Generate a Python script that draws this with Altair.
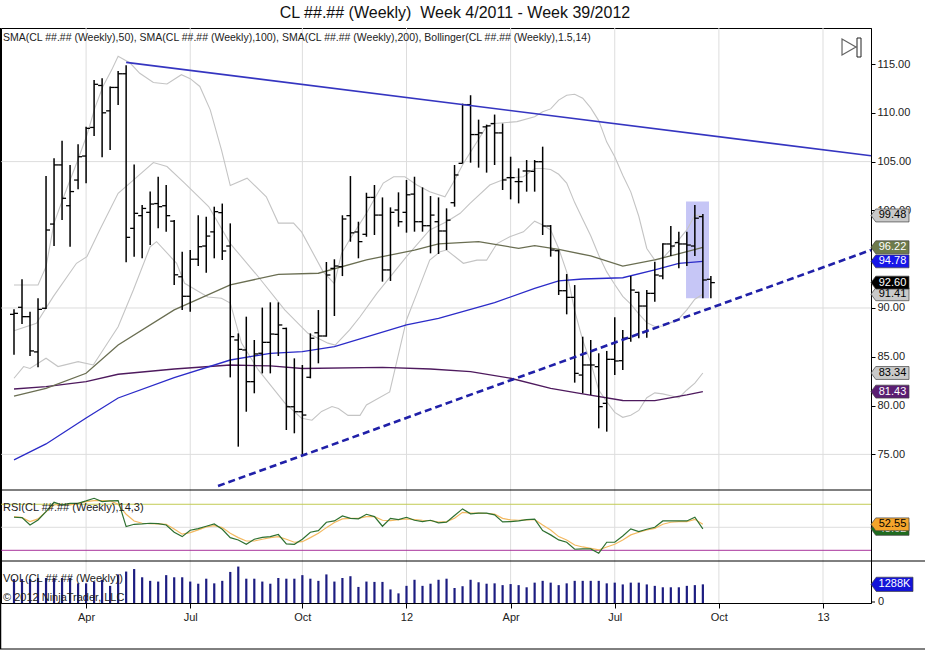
import altair as alt
import pandas as pd

FONT = "Liberation Sans"
TITLE = "CL ##.## (Weekly)\u00a0 Week 4/2011 - Week 39/2012"
IND_LABEL = "SMA(CL ##.## (Weekly),50), SMA(CL ##.## (Weekly),100), SMA(CL ##.## (Weekly),200), Bollinger(CL ##.## (Weekly),1.5,14)"
RSI_LABEL = "RSI(CL ##.## (Weekly),14,3)"
VOL_LABEL = "VOL(CL ##.## (Weekly))"
COPY_LABEL = "\u00a9 2012 NinjaTrader, LLC"

first_bar = "2011-01-28"   # weekly bars, one per week

opens = [89.35, 90.07, 89.11, 85.5, 89.97, 98.6, 104.66, 100.48, 103.11, 105.57,
         108.5, 112.8, 110.2, 112.6, 114.0, 98.16, 99.46, 99.8, 100.7, 100.48,
         98.9, 93.2, 91.2, 95.0, 96.35, 97.8, 99.77, 96.35, 86.72, 85.7,
         82.45, 85.36, 86.48, 87.3, 87.9, 79.88, 79.37, 82.9, 87.46, 87.13,
         94.06, 94.23, 99.46, 97.79, 97.55, 101.33, 99.52, 93.9, 100.04, 99.8,
         101.67, 98.84, 98.43, 98.84, 97.89, 100.79, 104.82, 110.84, 107.77, 108.56,
         108.9, 107.94, 103.36, 102.95, 104.04, 104.0, 104.99, 98.4, 95.87, 91.77,
         91.09, 83.13, 84.16, 83.99, 80.23, 84.74, 84.6, 86.89, 91.6, 90.2,
         91.5, 93.28, 96.56, 96.7, 96.56, 96.35, 99.36, 92.94]
highs = [89.86, 92.94, 89.62, 91.0, 103.52, 105.34, 107.14, 104.66, 106.77, 108.58,
         113.36, 113.53, 112.7, 114.28, 114.87, 104.7, 100.55, 101.93, 103.45, 102.6,
         99.02, 95.77, 95.94, 99.5, 99.36, 100.38, 100.7, 98.67, 87.4, 89.11,
         86.72, 90.04, 90.58, 90.58, 87.99, 84.84, 84.16, 87.4, 89.79, 94.71,
         94.99, 99.5, 103.52, 98.84, 101.81, 102.6, 101.33, 100.31, 101.85, 103.12,
         103.45, 102.36, 101.47, 101.33, 100.21, 104.65, 110.94, 111.8, 109.3, 108.79,
         109.82, 108.9, 105.5, 104.31, 105.16, 105.16, 106.53, 98.5, 95.94, 93.48,
         92.35, 87.06, 86.72, 85.36, 85.6, 89.04, 87.74, 93.28, 91.67, 91.84,
         94.75, 96.63, 98.4, 97.82, 97.82, 100.55, 99.63, 93.28]
lows = [85.2, 88.36, 85.08, 83.92, 89.9, 96.35, 99.02, 96.28, 102.16, 102.77,
        107.62, 105.44, 106.2, 110.8, 94.68, 95.26, 95.09, 96.45, 98.16, 97.8,
        92.36, 89.8, 89.62, 94.3, 93.6, 95.09, 94.92, 82.89, 75.79, 79.37,
        81.26, 83.3, 83.3, 85.08, 77.5, 77.16, 74.94, 82.79, 84.33, 87.06,
        89.18, 93.27, 96.79, 95.09, 97.3, 97.48, 92.7, 92.77, 98.33, 97.72,
        97.82, 97.82, 95.6, 95.53, 95.94, 100.38, 104.82, 104.89, 104.38, 103.87,
        104.65, 102.09, 101.13, 100.72, 101.92, 101.92, 97.48, 95.26, 91.33, 89.35,
        82.35, 81.26, 81.09, 77.67, 77.33, 83.13, 83.65, 86.55, 86.89, 86.96,
        90.65, 92.94, 95.33, 94.06, 94.3, 95.33, 91.0, 91.0]
closes = [89.45, 89.11, 85.6, 89.86, 97.99, 104.66, 101.24, 101.93, 105.5, 108.41,
          112.92, 110.0, 112.6, 114.0, 97.24, 99.7, 100.2, 100.65, 100.38, 99.46,
          93.4, 91.2, 95.0, 96.28, 97.37, 99.87, 95.84, 87.06, 85.76, 82.45,
          85.29, 86.48, 87.33, 88.26, 79.88, 79.37, 79.03, 86.9, 87.13, 93.38,
          94.3, 99.12, 97.7, 96.8, 101.33, 99.52, 93.9, 99.8, 98.84, 101.6,
          98.84, 98.43, 99.52, 97.89, 99.0, 103.63, 110.84, 107.77, 107.94, 108.66,
          107.94, 103.12, 103.36, 102.95, 104.04, 104.99, 98.4, 95.94, 91.77, 91.09,
          83.3, 84.16, 84.16, 79.89, 84.74, 84.57, 86.9, 91.84, 90.2, 91.5,
          93.38, 96.56, 96.35, 96.56, 96.45, 99.2, 92.87, 92.6]

rsi_values = [58.7, 58.4, 52.0, 56.4, 63.6, 71.7, 69.4, 70.8, 70.8, 72.9,
              75.2, 72.3, 72.9, 73.2, 50.6, 52.6, 52.9, 53.5, 53.2, 52.0,
              45.7, 41.9, 47.4, 48.8, 50.9, 52.9, 48.3, 41.0, 39.0, 35.2,
              39.6, 41.3, 41.9, 43.7, 35.5, 35.2, 39.6, 45.7, 47.1, 54.4,
              55.5, 59.9, 57.8, 57.3, 61.3, 59.3, 50.9, 57.8, 56.7, 58.7,
              56.1, 54.9, 56.1, 53.8, 54.4, 60.2, 66.0, 61.7, 62.3, 62.3,
              60.8, 54.7, 54.9, 55.5, 56.7, 57.0, 47.1, 43.4, 39.0, 37.0,
              30.9, 31.2, 31.2, 27.5, 37.0, 37.0, 42.5, 48.6, 46.2, 48.3,
              50.0, 55.5, 55.5, 55.5, 55.5, 58.7, 48.6]
rsi_avg = [59.2, 58.4, 54.9, 57.3, 63.6, 69.4, 70.0, 69.4, 70.8, 72.3,
           73.2, 73.2, 72.9, 70.0, 61.3, 55.5, 53.5, 53.2, 52.9, 52.6,
           48.6, 44.0, 45.4, 47.7, 50.3, 51.4, 49.7, 44.8, 41.0, 38.1,
           38.1, 39.6, 41.0, 41.9, 39.6, 37.0, 37.5, 41.0, 44.8, 49.7,
           54.1, 57.3, 57.8, 57.8, 59.3, 59.3, 56.1, 55.8, 56.7, 57.3,
           56.7, 56.1, 55.8, 54.6, 54.9, 57.8, 63.0, 62.3, 62.3, 62.0,
           61.4, 57.8, 56.4, 56.1, 56.4, 56.7, 52.0, 47.7, 41.9, 39.0,
           34.6, 32.9, 31.7, 30.3, 32.9, 35.2, 39.0, 43.4, 45.7, 47.7,
           49.1, 52.6, 54.4, 54.9, 54.9, 56.9, 52.55]
volumes_k = [1653, 1653, 1653, 1727, 1727, 1727, 1727, 1727, 1357, 1357,
             1480, 1604, 1184, 1974, 2171, 2344, 1776, 1530, 1480, 1924,
             1776, 1776, 1480, 1332, 1678, 1357, 1530, 2146, 2516, 1678,
             1678, 1480, 1332, 1727, 1678, 1678, 1924, 1678, 1530, 1974,
             1480, 1727, 1850, 1110, 1480, 1456, 1456, 937, 666, 1184,
             1604, 1184, 1332, 1604, 1678, 1036, 1159, 1604, 1431, 1332,
             1357, 1234, 1308, 1234, 1085, 1406, 1530, 1406, 1234, 1357,
             1530, 1530, 1530, 1530, 1357, 1406, 1283, 1406, 1406, 1283,
             1184, 1085, 1085, 1085, 1184, 1234, 1288]

# indicator lines: (bar number, value)
sma50_bar = [1, 5, 10, 14, 21, 28, 34, 39, 45, 51, 54, 59, 64, 66, 69, 73, 77, 81, 85, 87]
sma50_val = [80.98, 81.77, 83.31, 86.21, 89.80, 92.36, 93.45, 93.56, 94.92, 95.94,
             96.56, 96.79, 96.11, 96.38, 96.0, 95.33, 94.30, 94.92, 95.77, 96.22]
sma100_bar = [1, 5, 10, 14, 21, 28, 33, 37, 41, 50, 54, 61, 66, 69, 72, 77, 81, 84, 87]
sma100_val = [74.43, 76.07, 78.73, 80.78, 82.86, 84.67, 85.36, 85.52, 86.03, 88.26,
              88.94, 90.54, 92.02, 92.77, 92.97, 93.1, 93.9, 94.58, 94.78]
sma200_bar = [1, 5, 10, 14, 21, 28, 33, 37, 47, 53, 58, 63, 68, 72, 77, 81, 85, 87]
sma200_val = [81.70, 81.94, 82.45, 83.21, 83.75, 84.16, 84.06, 83.80, 83.92, 83.75,
              83.47, 82.80, 81.77, 81.19, 80.52, 80.50, 81.09, 81.43]

bb_up_bar = [1, 4, 5, 6, 7.2, 8.8, 10.1, 11.1, 12.1, 13.2, 14, 15.5, 16.7, 18.4, 20.1,
             21.9, 23, 24.2, 25.5, 26.9, 28, 30.1, 32.5, 34, 35.9, 36.9, 39.6, 41,
             41.9, 42.9, 45, 47.1, 48.4, 49.8, 51.3, 52.9, 54.8, 55.8, 57.1, 60, 61,
             63.8, 66, 67, 68, 69, 70, 71, 72, 73, 74, 75, 76, 77, 78, 79, 80, 81,
             82, 83, 84, 85, 86, 87]
bb_up_val = [92.36, 92.36, 94.23, 98.7, 101.4, 104.8, 107.7, 110.5, 112.7, 114.4, 115.8,
             115.1, 114.05, 113.1, 112.95, 113.9, 113.5, 112.7, 110.3, 106.2, 102.55,
             103.3, 101.4, 98.7, 98.7, 97.8, 93.7, 92.5, 95.6, 97.0, 99.7, 102.8,
             103.45, 103.45, 102.6, 101.9, 101.4, 102.8, 104.8, 108.6, 108.9, 109.1,
             109.6, 110.1, 110.4, 111.3, 111.8, 111.9, 111.5, 110.5, 109.2, 107.0,
             105.5, 103.6, 101.9, 99.4, 96.1, 94.9, 95.1, 96.0, 97.0, 98.0, 99.5, 99.48]
bb_mid_bar = [1, 3.8, 5.9, 8.8, 10.1, 11.7, 14, 15.9, 18.4, 20.1, 22.3, 25.3, 28, 31.5,
              34.8, 37.7, 40.2, 41.1, 42.9, 44.2, 46.3, 50, 52.9, 55, 56.7, 57.9, 60.4,
              62.5, 64.6, 66, 67, 68, 69, 70, 71, 72, 73, 74, 75, 76, 77, 78, 79, 80,
              81, 82, 83, 84, 85, 86, 87]
bb_mid_val = [87.67, 88.43, 91.16, 94.58, 95.26, 98.0, 101.75, 103.1, 104.9, 104.5,
              102.8, 100.4, 96.6, 93.2, 89.8, 87.4, 86.4, 86.2, 87.75, 89.1, 91.5,
              95.26, 98.0, 98.84, 99.7, 100.7, 102.6, 103.3, 103.45, 104.3, 104.3,
              104.2, 103.7, 102.8, 100.8, 99.1, 97.4, 95.4, 93.7, 92.4, 91.2, 90.4,
              89.4, 88.5, 88.1, 88.15, 88.5, 88.9, 89.8, 90.9, 91.41]
bb_lo_bar = [1, 2.2, 3, 5, 6.5, 9, 10.9, 14, 15.9, 18, 18.8, 21.3, 22.3, 25.2, 26.9,
             28, 29.4, 31.5, 34.8, 36.9, 38.2, 39.4, 40.7, 41.5, 42.7, 44.2, 45,
             47.9, 50, 51.3, 52.9, 54.2, 55, 57.1, 58.8, 60, 61.3, 62.9, 64.6, 66,
             67, 68, 69, 70, 71, 72, 73, 74, 75, 76, 77, 78, 79, 80, 81, 82, 83, 84,
             85, 86, 87]
bb_lo_val = [82.8, 84.0, 83.8, 84.85, 84.0, 84.5, 84.16, 88.08, 91.84, 96.28, 96.8,
             94.58, 92.53, 91.13, 91.0, 90.5, 86.4, 83.65, 80.27, 78.7, 78.5, 79.4,
             79.9, 79.7, 79.0, 79.0, 80.06, 81.4, 88.77, 91.5, 94.9, 95.77, 95.94,
             94.58, 94.9, 94.9, 96.6, 97.3, 97.8, 98.9, 98.5, 98.0, 96.1, 93.7, 89.7,
             86.7, 84.4, 81.6, 80.4, 79.3, 78.8, 79.0, 79.5, 80.8, 81.3, 81.2, 81.0,
             80.8, 81.6, 82.3, 83.34]

# drawn trend lines (date, price)
trend_up_date = ["2011-05-06", "2013-02-14T22:30:00"]
trend_up_val = [115.17, 105.6]
trend_dn_date = ["2011-07-25T07:00:00", "2013-02-14T22:30:00"]
trend_dn_val = [71.76, 95.94]

# highlighted area
hl_date = ["2012-09-06T07:00:00", "2012-09-26T09:00:00"]
hl_val = [91.0, 100.9]

quarter_ticks = ["2011-04-01", "2011-07-01", "2011-10-07", "2012-01-06",
                 "2012-04-06", "2012-07-06", "2012-10-05", "2013-01-04"]
price_ticks = [75, 80, 85, 90, 95, 100, 105, 110, 115]
price_grid = [75, 90, 105]
rsi_upper, rsi_mid, rsi_lower = 70, 50, 30

tag_main_vals = [81.43, 83.34, 91.41, 92.60, 94.78, 96.22, 99.48]
tag_main_fill = ["#5B1E72", "#C9C9C9", "#C9C9C9", "#000000", "#1717E8", "#6E7B4C", "#C9C9C9"]
tag_main_text = ["white", "black", "black", "white", "white", "white", "black"]
tag_rsi_vals = [48.62, 52.55]
tag_rsi_fill = ["#1F6B1F", "#F4A52C"]
tag_rsi_text = ["white", "black"]
tag_vol_val = 1288

# ---------------- helpers ----------------
T0 = pd.Timestamp(first_bar)


def ms(s):
    return int(pd.Timestamp(s).value // 10**6)


def bar_ms(b):
    return int((T0 + pd.Timedelta(days=7 * (b - 1))).value // 10**6)


XDOM = [ms("2011-01-16T15:21:00"), ms("2013-02-14T22:30:00")]
XSCALE = alt.Scale(type="utc", domain=XDOM)
XAXIS = alt.Axis(values=[ms(d) for d in quarter_ticks],
                 labelExpr="utcmonth(datum.value) == 0 ? utcFormat(datum.value, '%y') : utcFormat(datum.value, '%b')",
                 title=None, grid=False, tickSize=5, tickColor="black", domainColor="black",
                 labelFontSize=11, labelFont=FONT, labelColor="#222222", labelPadding=3,
                 labelFlush=False, labelOverlap=False)


def X(field="date"):
    return alt.X(f"{field}:T", scale=XSCALE, axis=XAXIS)


MAIN = alt.Scale(domain=[71.35, 118.69], range=[462, 0], zero=False, nice=False)
RSI = alt.Scale(domain=[20.7, 82.4], range=[533, 462], zero=False, nice=False)
VOL = alt.Scale(domain=[0, 2900], range=[575, 533], zero=False, nice=False)
PRICE_AXIS = alt.Axis(orient="right", values=price_ticks, format=".2f", grid=False,
                      tickSize=4, tickColor="black", domainColor="black", labelFont=FONT,
                      labelFontSize=11, labelColor="#222222", labelPadding=2, title=None)

n = len(opens)
ohlc = pd.DataFrame({"date": [bar_ms(i + 1) for i in range(n)], "open": opens,
                     "high": highs, "low": lows, "close": closes})
ind = pd.DataFrame({"date": [bar_ms(i + 1) for i in range(len(rsi_values))],
                    "rsi": rsi_values, "avg": rsi_avg, "vol": volumes_k})


def line_df(bars, vals):
    return pd.DataFrame({"date": [bar_ms(b) for b in bars], "value": vals})


one = pd.DataFrame({"k": [0]})
layers = []

# grid
layers.append(alt.Chart(pd.DataFrame({"date": [ms(d) for d in quarter_ticks]}))
              .mark_rule(color="#DDDDDD", strokeWidth=1)
              .encode(x=X(), y=alt.value(0), y2=alt.value(575)))
layers.append(alt.Chart(pd.DataFrame({"p": price_grid})).mark_rule(color="#DDDDDD", strokeWidth=1)
              .encode(y=alt.Y("p:Q", scale=MAIN, axis=None), x=alt.value(0), x2=alt.value(870)))
layers.append(alt.Chart(pd.DataFrame({"p": [rsi_mid]})).mark_rule(color="#DDDDDD", strokeWidth=1)
              .encode(y=alt.Y("p:Q", scale=RSI, axis=None), x=alt.value(0), x2=alt.value(870)))

# highlight
hl = pd.DataFrame({"d1": [ms(hl_date[0])], "d2": [ms(hl_date[1])], "p1": [hl_val[0]], "p2": [hl_val[1]]})
layers.append(alt.Chart(hl).mark_rect(color="#C6C6F6")
              .encode(x=X("d1"), x2="d2:T", y=alt.Y("p1:Q", scale=MAIN, axis=None), y2="p2:Q"))

# bollinger
for bars, vals in [(bb_up_bar, bb_up_val), (bb_mid_bar, bb_mid_val), (bb_lo_bar, bb_lo_val)]:
    layers.append(alt.Chart(line_df(bars, vals)).mark_line(color="#C4C4C4", strokeWidth=1.1)
                  .encode(x=X(), y=alt.Y("value:Q", scale=MAIN, axis=None)))

# SMAs
for bars, vals, col in [(sma200_bar, sma200_val, "#4E1A5E"), (sma100_bar, sma100_val, "#2B2BC8"),
                        (sma50_bar, sma50_val, "#6A6E52")]:
    layers.append(alt.Chart(line_df(bars, vals)).mark_line(color=col, strokeWidth=1.3)
                  .encode(x=X(), y=alt.Y("value:Q", scale=MAIN, axis=None)))

# OHLC bars
layers.append(alt.Chart(ohlc).mark_rule(color="black", strokeWidth=1.5)
              .encode(x=X(), y=alt.Y("low:Q", scale=MAIN, axis=PRICE_AXIS), y2="high:Q"))
layers.append(alt.Chart(ohlc).mark_rule(color="black", strokeWidth=1.3, xOffset=-4, x2Offset=0)
              .encode(x=X(), x2="date:T", y=alt.Y("open:Q", scale=MAIN, axis=None)))
layers.append(alt.Chart(ohlc).mark_rule(color="black", strokeWidth=1.3, xOffset=0, x2Offset=4)
              .encode(x=X(), x2="date:T", y=alt.Y("close:Q", scale=MAIN, axis=None)))

# trend lines
tu = pd.DataFrame({"date": [ms(d) for d in trend_up_date], "value": trend_up_val})
td = pd.DataFrame({"date": [ms(d) for d in trend_dn_date], "value": trend_dn_val})
layers.append(alt.Chart(tu).mark_line(color="#3535C0", strokeWidth=1.6)
              .encode(x=X(), y=alt.Y("value:Q", scale=MAIN, axis=None)))
layers.append(alt.Chart(td).mark_line(color="#2020A8", strokeWidth=2.6, strokeDash=[7, 4])
              .encode(x=X(), y=alt.Y("value:Q", scale=MAIN, axis=None)))

# RSI panel
layers.append(alt.Chart(pd.DataFrame({"p": [rsi_upper]})).mark_rule(color="#C2CC55", strokeWidth=1)
              .encode(y=alt.Y("p:Q", scale=RSI, axis=None), x=alt.value(0), x2=alt.value(870)))
layers.append(alt.Chart(pd.DataFrame({"p": [rsi_lower]})).mark_rule(color="#A8329B", strokeWidth=1)
              .encode(y=alt.Y("p:Q", scale=RSI, axis=None), x=alt.value(0), x2=alt.value(870)))
layers.append(alt.Chart(ind).mark_line(color="#F3B960", strokeWidth=1.2)
              .encode(x=X(), y=alt.Y("avg:Q", scale=RSI, axis=None)))
layers.append(alt.Chart(ind).mark_line(color="#2E7030", strokeWidth=1.2)
              .encode(x=X(), y=alt.Y("rsi:Q", scale=RSI, axis=None)))

# volume
layers.append(alt.Chart(ind).mark_rule(color="#1C1C80", strokeWidth=2.2)
              .encode(x=X(), y=alt.Y("vol:Q", scale=VOL, axis=None), y2=alt.datum(0)))

# separators and frame
layers.append(alt.Chart(one).mark_rule(color="black", strokeWidth=1)
              .encode(x=alt.value(0), x2=alt.value(870), y=alt.value(462)))
layers.append(alt.Chart(one).mark_rule(color="black", strokeWidth=1)
              .encode(x=alt.value(0), x2=alt.value(924), y=alt.value(533)))
layers.append(alt.Chart(one).mark_rule(color="black", strokeWidth=1)
              .encode(x=alt.value(-1), x2=alt.value(924), y=alt.value(621)))
layers.append(alt.Chart(one).mark_rule(color="black", strokeWidth=1.5)
              .encode(x=alt.value(-0.5), y=alt.value(0), y2=alt.value(621)))

# texts
def txt(s, x, y, size=11, align="left", color="#222222"):
    return (alt.Chart(one).mark_text(font=FONT, fontSize=size, align=align, baseline="middle", color=color)
            .encode(x=alt.value(x), y=alt.value(y), text=alt.value(s)))


layers.append(txt(TITLE, 454, -15, size=16, align="center", color="#111111"))
layers.append(txt(IND_LABEL, 2, 10, size=10.5))
layers.append(txt(RSI_LABEL, 2, 480, size=11))
layers.append(txt(VOL_LABEL, 2, 551, size=11))
layers.append(txt(COPY_LABEL, 2, 570, size=11))
layers.append(txt("0", 877, 574, size=11))
layers.append(alt.Chart(one).mark_rule(color="black").encode(x=alt.value(870), x2=alt.value(874), y=alt.value(574)))

# tags
TAG_SHAPE = "M -1 0 L -0.75 -0.34 L 1 -0.34 L 1 0.34 L -0.75 0.34 Z"


def tag(value, label, scale, fill, tcol, width=38):
    df = pd.DataFrame({"v": [value], "t": [label]})
    box = (alt.Chart(df).mark_point(shape=TAG_SHAPE, size=width * width, filled=True, fill=fill,
                                    stroke="#444444", strokeWidth=0.7, opacity=1)
           .encode(x=alt.value(870 + width / 2), y=alt.Y("v:Q", scale=scale, axis=None)))
    t = (alt.Chart(df).mark_text(font=FONT, fontSize=11, color=tcol, align="center", baseline="middle")
         .encode(x=alt.value(870 + width / 2 + 2.5), y=alt.Y("v:Q", scale=scale, axis=None), text="t:N"))
    return [box, t]


for v, f, c in zip(tag_main_vals, tag_main_fill, tag_main_text):
    layers += tag(v, f"{v:.2f}", MAIN, f, c)
for v, f, c in zip(tag_rsi_vals, tag_rsi_fill, tag_rsi_text):
    layers += tag(v, f"{v:.2f}", RSI, f, c)
layers += tag(tag_vol_val, f"{tag_vol_val}K", VOL, "#1414D8", "white", width=42)

# scroll button
layers.append(alt.Chart(one).mark_point(shape="triangle-right", size=260, filled=False, color="#222222", strokeWidth=1.2)
              .encode(x=alt.value(848), y=alt.value(19)))
layers.append(alt.Chart(one).mark_rect(fill="white", stroke="#222222", strokeWidth=1)
              .encode(x=alt.value(856), x2=alt.value(860), y=alt.value(10), y2=alt.value(29)))

chart = (alt.layer(*layers)
         .resolve_scale(y="independent")
         .properties(width=870, height=575, autosize=alt.AutoSizeParams(type="none"),
                     padding={"left": 1, "top": 28, "right": 54, "bottom": 47}, background="white")
         .configure_view(stroke="black", strokeWidth=1))

chart.save("out.html", embed_options={"renderer": "svg", "actions": False})
